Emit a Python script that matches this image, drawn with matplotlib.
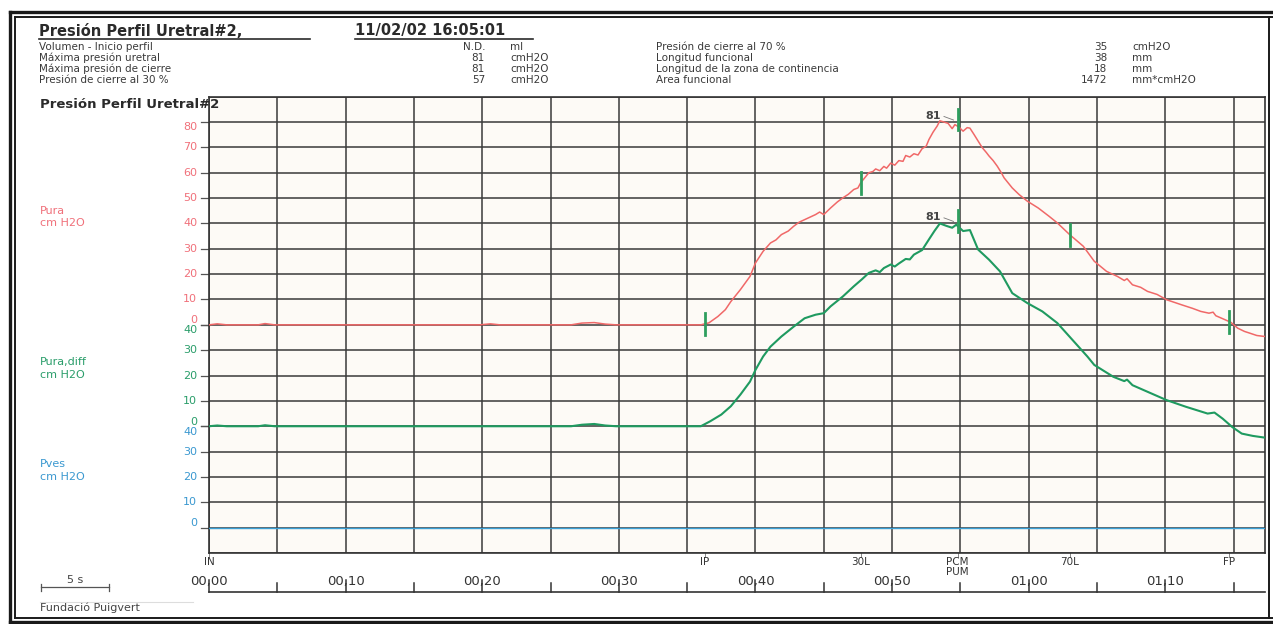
import matplotlib
matplotlib.use("Agg")
import matplotlib.pyplot as plt
from matplotlib.lines import Line2D
import numpy as np

plt.rcParams['font.family'] = ['DejaVu Sans']

# ---- data ----
t_pura = [0, 0.6, 1.3, 3.6, 4.1, 4.8, 19.8, 20.6, 21.3, 26.5, 27.3, 28.2, 29.0, 29.8, 36.0,
          36.6, 37.25, 37.8, 38.2, 38.9, 39.6, 40.0, 40.56, 41.1, 41.5, 41.9, 42.4, 42.8, 43.2,
          43.6, 44.0, 44.4, 44.7, 45.0, 45.5, 46.0, 46.4, 46.8, 47.2, 47.5, 47.7, 48.0, 48.3,
          48.6, 48.8, 49.1, 49.4, 49.6, 49.9, 50.2, 50.5, 50.8, 51.0, 51.3, 51.6, 51.9, 52.2,
          52.5, 52.7, 53.0, 53.3, 53.5, 53.8, 54.1, 54.4, 54.6, 54.9, 55.2, 55.5, 55.7, 56.0,
          56.3, 56.6, 56.9, 57.1, 57.4, 57.7, 58.0, 58.2, 58.5, 58.8, 59.3, 59.9, 60.7, 61.5,
          62.1, 63.0, 64.0, 64.8, 65.7, 66.5, 67.0, 67.2, 67.6, 68.2, 68.7, 69.4, 70.1, 71.2,
          72.0, 72.6, 73.2, 73.5, 73.7, 74.3, 74.8, 75.3, 75.8, 76.2, 76.7, 77.3]
pura = [0, 0.4, 0, 0, 0.5, 0, 0, 0.4, 0, 0, 0.7, 0.9, 0.3, 0, 0,
        0.8, 3.3, 6.0, 9.2, 13.9, 19.1, 24.4, 29.0, 32.3, 33.5, 35.6, 37.0, 38.9, 40.5,
        41.5, 42.5, 43.5, 44.5, 43.5, 46.1, 48.5, 50.1, 51.5, 53.4, 54.0, 56.0, 58.0, 60.0,
        60.5, 61.5, 60.8, 62.5, 61.8, 63.8, 63.0, 64.8, 64.5, 66.8, 66.2, 67.5, 67.0, 69.5,
        70.5, 73.1, 76.0, 78.4, 80.5, 80.0, 79.5, 77.4, 79.0, 78.0, 76.4, 77.8, 77.6, 75.1,
        72.5, 69.9, 68.0, 66.6, 64.8, 62.6, 60.0, 58.0, 56.0, 54.0, 51.4, 48.8, 46.1, 42.8,
        40.2, 35.6, 31.0, 25.1, 21.1, 19.1, 17.5, 18.2, 15.8, 14.8, 13.2, 12.0, 9.9, 7.9,
        6.5, 5.3, 4.6, 5.0, 3.6, 2.2, 1.0, -1.3, -2.6, -3.3, -4.2, -4.6]

t_pdiff = [0, 0.6, 1.3, 3.6, 4.1, 4.8, 26.5, 27.3, 28.2, 29.0, 29.8, 36.0,
           36.7, 37.5, 38.2, 38.9, 39.6, 40.0, 40.56, 41.1, 41.9, 42.8, 43.6, 44.4, 45.0,
           45.5, 46.4, 47.2, 47.8, 48.3, 48.8, 49.1, 49.4, 49.9, 50.2, 50.5, 51.0, 51.3, 51.6,
           52.2, 52.7, 53.1, 53.5, 54.0, 54.4, 54.7, 55.2, 55.7, 56.3, 57.1, 57.9, 58.8,
           59.9, 61.0, 62.1, 63.2, 64.3, 64.8, 66.2, 67.0, 67.2, 67.6, 68.7, 70.1, 71.5, 73.1,
           73.6, 74.2, 74.9, 75.6, 76.4, 77.3]
pdiff = [0, 0.3, 0, 0, 0.4, 0, 0, 0.6, 0.9, 0.3, 0, 0,
         2.0, 4.6, 7.9, 12.5, 17.6, 22.2, 27.5, 31.4, 35.4, 39.3, 42.6, 44.0, 44.6,
         47.3, 51.2, 55.2, 58.0, 60.5, 61.5, 60.8, 62.4, 63.8, 63.0, 64.2, 66.0, 65.8, 67.7,
         69.5, 73.7, 77.0, 80.0, 79.0, 78.3, 79.5, 77.0, 77.4, 69.7, 65.7, 61.1, 52.5,
         48.6, 45.3, 40.7, 34.1, 27.5, 24.2, 19.5, 17.8, 18.4, 16.2, 13.6, 10.3, 7.7, 5.0,
         5.4, 3.0, -0.3, -2.9, -3.8, -4.5]

t_pves = [0, 77.3]
pves = [0, 0]

event_names = ["IN", "IP", "30L", "PCM", "70L", "FP"]
event_times = [0, 36.3, 47.7, 54.8, 63.0, 74.7]
max_pura = 81
max_pdiff = 81

left_rows = [("Volumen - Inicio perfil", "N.D.", "ml"),
             ("Máxima presión uretral", "81", "cmH2O"),
             ("Máxima presión de cierre", "81", "cmH2O"),
             ("Presión de cierre al 30 %", "57", "cmH2O")]
right_rows = [("Presión de cierre al 70 %", "35", "cmH2O"),
              ("Longitud funcional", "38", "mm"),
              ("Longitud de la zona de continencia", "18", "mm"),
              ("Area funcional", "1472", "mm*cmH2O")]

# ---- figure ----
W, H = 1273, 624
fig = plt.figure(figsize=(W / 100, H / 100), dpi=100)
fig.patch.set_facecolor('white')

def fx(px):
    return px / W

def fy(py):
    return 1 - py / H

def fline(x0, x1, y0, y1, **kw):
    fig.add_artist(Line2D([fx(x0), fx(x1)], [fy(y0), fy(y1)], transform=fig.transFigure, **kw))

ax_l, ax_r, ax_t, ax_b = 209, 1265, 96.7, 553
ax = fig.add_axes([fx(ax_l), fy(ax_b), (ax_r - ax_l) / W, (ax_b - ax_t) / H])
ax.set_facecolor('#fdfaf6')
ax.set_xlim(0, 77.3)
ax.set_ylim(-10, 170)
ax.set_xticks(np.arange(0, 76, 5))
ax.set_yticks(np.arange(-10, 171, 10))
ax.grid(True, color='#3a3a3a', lw=1.1)
ax.tick_params(length=0, labelbottom=False, labelleft=False)
for s in ax.spines.values():
    s.set_color('#333333')
    s.set_linewidth(1.2)

def ay(py):
    return (ax_b - py) / (ax_b - ax_t)

red, green, blue = '#f06868', '#1f9a60', '#3a9fd5'
off_pura, off_pdiff, off_pves = 80, 40, 0

ax.plot(t_pura, np.array(pura) + off_pura, color=red, lw=1.1, zorder=3)
ax.plot(t_pdiff, np.array(pdiff) + off_pdiff, color=green, lw=1.5, zorder=3)
ax.plot(t_pves, np.array(pves) + off_pves, color=blue, lw=1.0, zorder=3)

# event markers on the curves
mk = '#2e9e5e'
for name, t in zip(event_names[1:], event_times[1:]):
    v = np.interp(t, t_pura, pura) + off_pura
    if name == "PCM":
        v = max_pura + off_pura
    ax.plot([t, t], [v - 4.3, v + 4.3], color=mk, lw=2.0, zorder=4)
pv = max_pdiff + off_pdiff
ax.plot([event_times[3]] * 2, [pv - 4.3, pv + 4.3], color=mk, lw=2.0, zorder=4)

for val, off in [(max_pura, off_pura), (max_pdiff, off_pdiff)]:
    ax.text(53.0, val + off + 1.5, str(val), ha='center', va='center', fontsize=8,
            fontweight='bold', color='#444444', zorder=5)
    ax.plot([53.8, 54.5], [val + off + 1.2, val + off - 0.2], color='#777777', lw=0.6, zorder=5)

# channel scales on the left
channels = [("Pura", '#f0707a', off_pura, range(0, 81, 10), 211),
            ("Pura,diff", '#2a9d6a', off_pdiff, range(0, 41, 10), 362),
            ("Pves", '#3a98d0', off_pves, range(0, 41, 10), 464)]
ytr = ax.get_yaxis_transform()
tick_len = 8 / (ax_r - ax_l)
for name, lc, off, ticks, py in channels:
    for v in ticks:
        dy = 0
        if v == 0:
            dy = 3.4
        elif v == max(ticks):
            dy = -3.8
        ax.annotate(str(v), xy=(0, off + v), xycoords=ytr, xytext=(-8.5, dy),
                    textcoords='offset points', ha='right', va='center',
                    fontsize=8, color=lc, annotation_clip=False)
        ax.plot([-tick_len, 0], [off + v, off + v], transform=ytr, color='#555555',
                lw=0.9, clip_on=False)
    fig.text(fx(40), fy(py), name, fontsize=8, color=lc, va='center')
    fig.text(fx(40), fy(py + 12.5), "cm H2O", fontsize=8, color=lc, va='center')

# event labels under the plot
xtr = ax.get_xaxis_transform()
for name, t in zip(event_names, event_times):
    ax.plot([t, t], [0, ay(557)], transform=xtr, color='#888888', lw=0.7, clip_on=False)
    lbl = "PCM\nPUM" if name == "PCM" else name
    ax.text(t, ay(557), lbl, transform=xtr, ha='center', va='top', fontsize=7.5,
            color='#333333', linespacing=0.95)

# time axis
y_line = ay(592)
ax.plot([0, 77.3], [y_line, y_line], transform=xtr, color='#333333', lw=1.2, clip_on=False)
for s in range(0, 76, 5):
    top = ay(583) if s % 10 else ay(580)
    ax.plot([s, s], [y_line, top], transform=xtr, color='#333333', lw=1.1, clip_on=False)
    if s % 10 == 0:
        ax.text(s, ay(581.5), "%02d,%02d" % (s // 60, s % 60), transform=xtr,
                ha='center', va='center', fontsize=9.5, color='#333333')

# header
fig.text(fx(39), fy(31), "Presión Perfil Uretral#2,", fontsize=10.5, fontweight='bold',
         color='#2a2a2a', va='center')
fig.text(fx(355), fy(31), "11/02/02 16:05:01", fontsize=10.5, fontweight='bold',
         color='#2a2a2a', va='center')
fline(39, 310, 38.5, 38.5, color='#2a2a2a', lw=1.2)
fline(355, 533, 38.5, 38.5, color='#2a2a2a', lw=1.2)

row_y = [47, 58, 69, 80]
for (lab, val, unit), py in zip(left_rows, row_y):
    fig.text(fx(39), fy(py), lab, fontsize=7.5, color='#3a3a3a', va='center')
    fig.text(fx(485), fy(py), val, fontsize=7.5, color='#3a3a3a', va='center', ha='right')
    fig.text(fx(510), fy(py), unit, fontsize=7.5, color='#3a3a3a', va='center')
for (lab, val, unit), py in zip(right_rows, row_y):
    fig.text(fx(656), fy(py), lab, fontsize=7.5, color='#3a3a3a', va='center')
    fig.text(fx(1107), fy(py), val, fontsize=7.5, color='#3a3a3a', va='center', ha='right')
    fig.text(fx(1132), fy(py), unit, fontsize=7.5, color='#3a3a3a', va='center')

fig.text(fx(40), fy(105), "Presión Perfil Uretral#2", fontsize=9.5, fontweight='bold',
         color='#2a2a2a', va='center', zorder=10)

# 5 s scale bar and footer
fline(41, 109, 587, 587, color='#555555', lw=0.9)
fline(41, 41, 583.5, 590.5, color='#555555', lw=0.9)
fline(109, 109, 583.5, 590.5, color='#555555', lw=0.9)
fig.text(fx(75), fy(580), "5 s", fontsize=8, color='#444444', va='center', ha='center')
fline(40, 193, 601.5, 601.5, color='#dddddd', lw=0.8)
fig.text(fx(40), fy(608), "Fundació Puigvert", fontsize=8, color='#444444', va='center')

# double frame
k = '#1a1a1a'
fline(9.5, 9.5, 12, 622, color=k, lw=2.4)
fline(15, 15, 17, 618, color=k, lw=1.4)
fline(9.5, 1273, 12, 12, color=k, lw=2.4)
fline(15, 1273, 17, 17, color=k, lw=1.4)
fline(9.5, 1273, 622, 622, color=k, lw=2.4)
fline(15, 1273, 618, 618, color=k, lw=1.4)
fline(1268.5, 1268.5, 17, 618, color=k, lw=1.4)

fig.savefig("out.png", dpi=100)
